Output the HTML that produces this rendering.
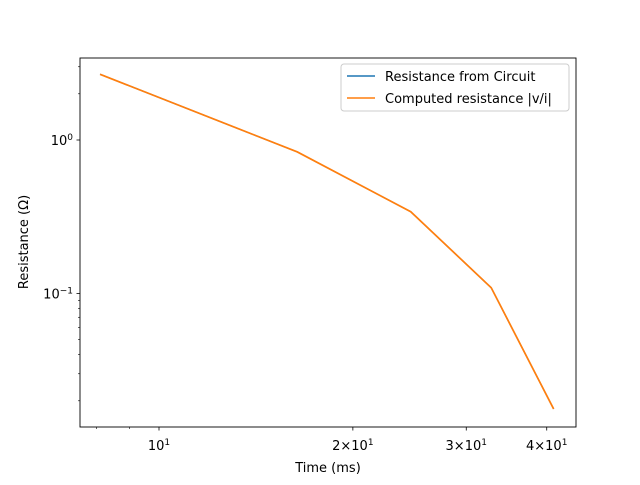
<!DOCTYPE html>
<html><head><meta charset="utf-8"><style>
body{margin:0;background:#fff}
svg{font-family:"DejaVu Sans","Liberation Sans",sans-serif}
</style></head><body>
<svg id="chart" width="640" height="480" xmlns="http://www.w3.org/2000/svg">
<rect width="640" height="480" fill="#fff"/>
<g id="ticks"></g>
<g id="lines"></g>
<rect x="80" y="58" width="496" height="369" fill="none" stroke="#000" stroke-width="0.9"/>
<text x="328" y="472" font-size="13" text-anchor="middle">Time (ms)</text>
<text transform="translate(28,242) rotate(-90)" font-size="13" text-anchor="middle">Resistance (Ω)</text>
<g>
<rect x="341" y="64" width="228" height="47" fill="#fff" stroke="#ccc" rx="3"/>
<line x1="347" y1="76" x2="375" y2="76" stroke="#1f77b4" stroke-width="1.5"/>
<text x="385" y="81" font-size="13">Resistance from Circuit</text>
<line x1="347" y1="98" x2="375" y2="98" stroke="#ff7f0e" stroke-width="1.5"/>
<text x="385" y="103" font-size="13">Computed resistance |v/i|</text>
</g>
</svg>
<script>
const times=[8.1,16.4,24.6,32.8,41.0];
const circuitR=[2.68,0.836,0.341,0.109,0.0177];
const computedR=[2.68,0.836,0.341,0.109,0.0177];
const xMajor=[10,20,30,40];
const xMajorLabels=[["10","1"],["2×10","1"],["3×10","1"],["4×10","1"]];
const xMinor=[8,9];
const yMajor=[1,0.1];
const yMajorLabels=[["10","0"],["10","−1"]];
const yMinor=[0.02,0.03,0.04,0.05,0.06,0.07,0.08,0.09,2,3];
const NS="http://www.w3.org/2000/svg";
function X(v){return 159+644*(Math.log10(v)-1);}
function Y(v){return 140-153.5*Math.log10(v);}
const tg=document.getElementById('ticks'),lg=document.getElementById('lines');
function line(p,x1,y1,x2,y2,c,w){const l=document.createElementNS(NS,'line');l.setAttribute('x1',x1);l.setAttribute('y1',y1);l.setAttribute('x2',x2);l.setAttribute('y2',y2);l.setAttribute('stroke',c);l.setAttribute('stroke-width',w);p.appendChild(l);return l;}
function lab(x,y,parts,anchor){const t=document.createElementNS(NS,'text');t.setAttribute('x',x);t.setAttribute('y',y);t.setAttribute('font-size','13');t.setAttribute('text-anchor',anchor);t.textContent=parts[0];const s=document.createElementNS(NS,'tspan');s.setAttribute('font-size','9');s.setAttribute('dy','-5');s.textContent=parts[1];t.appendChild(s);tg.appendChild(t);return t;}
xMajor.forEach((v,i)=>{const l=line(tg,X(v),427,X(v),430.5,'#000',0.8);


const t=lab(X(v),450,xMajorLabels[i],'middle');

});
xMinor.forEach(v=>{const l=line(tg,X(v),427,X(v),429,'#000',0.6);

});
yMajor.forEach((v,i)=>{const l=line(tg,76.5,Y(v),80,Y(v),'#000',0.8);


const t=lab(73,Y(v)+5,yMajorLabels[i],'end');

});
yMinor.forEach(v=>{const l=line(tg,78,Y(v),80,Y(v),'#000',0.6);

});
function series(vals,color,name,w){const p=document.createElementNS(NS,'polyline');p.setAttribute('points',times.map((t,i)=>X(t)+','+Y(vals[i])).join(' '));p.setAttribute('fill','none');p.setAttribute('stroke',color);p.setAttribute('stroke-width',w);


lg.appendChild(p);}
series(circuitR,'#1f77b4','series-circuit-resistance','1.3');
series(computedR,'#ff7f0e','series-computed-resistance','1.7');
</script>
</body></html>
